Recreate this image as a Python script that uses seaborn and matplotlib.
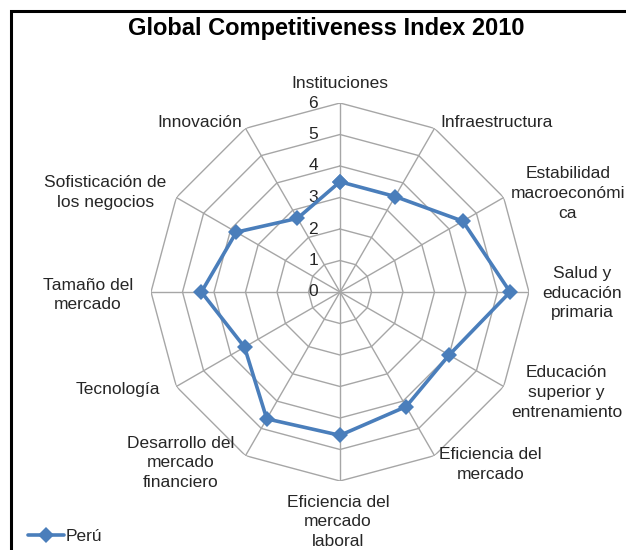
import numpy as np
import pandas as pd
import matplotlib
matplotlib.use("Agg")
import matplotlib.pyplot as plt
from matplotlib.patches import Rectangle
import seaborn as sns

# Pillars of the Global Competitiveness Index, clockwise from the top
categories = [
    "Instituciones", "Infraestructura", "Estabilidad\nmacroeconómi\nca",
    "Salud y\neducación\nprimaria", "Educación\nsuperior y\nentrenamiento",
    "Eficiencia del\nmercado", "Eficiencia del\nmercado\nlaboral",
    "Desarrollo del\nmercado\nfinanciero", "Tecnología", "Tamaño del\nmercado",
    "Sofisticación de\nlos negocios", "Innovación",
]
peru_scores = [3.5, 3.5, 4.5, 5.4, 4.0, 4.2, 4.55, 4.65, 3.5, 4.4, 3.8, 2.7]
radial_ticks = [0, 1, 2, 3, 4, 5, 6]
series_name = "Perú"
title = "Global Competitiveness Index 2010"

# label offsets (pixels) from the end of each spoke
label_offsets = [(0, 20), (62, 6), (64, 4), (53, -1), (63, -6), (56, -9),
                 (-2, -41), (-65, -7), (-58, -3), (-63, -3), (-71, 5), (-46, 6)]

sns.set_theme(style="white")
plt.rcParams["font.family"] = ["Liberation Sans", "DejaVu Sans"]

W, H, DPI = 626, 550, 100
fig = plt.figure(figsize=(W / DPI, H / DPI), dpi=DPI)
fig.patch.set_facecolor("white")

cx, cy, R = 340, 292, 189
ax = fig.add_axes([(cx - R) / W, (H - cy - R) / H, 2 * R / W, 2 * R / H],
                  projection="polar")
ax.set_theta_offset(np.pi / 2)
ax.set_theta_direction(-1)
ax.set_ylim(0, radial_ticks[-1])
ax.grid(False)
ax.spines["polar"].set_visible(False)
ax.set_xticks([])
ax.set_yticks([])
ax.set_facecolor("none")

n = len(categories)
angles = np.arange(n) * 2 * np.pi / n
closed = np.append(angles, angles[0])

grid_color = "#a6a6a6"
for r in radial_ticks[1:]:
    ax.plot(closed, [r] * (n + 1), color=grid_color, lw=1.0, zorder=1)
for a in angles:
    ax.plot([a, a], [0, radial_ticks[-1]], color=grid_color, lw=1.0, zorder=1)

text_color = "#262626"
for r in radial_ticks:
    ax.annotate(str(r), xy=(0, r), xytext=(-27, 0), textcoords="offset pixels",
                ha="center", va="center", fontsize=12.5, color=text_color,
                annotation_clip=False)

for a, lab, (dx, dy) in zip(angles, categories, label_offsets):
    ax.annotate(lab, xy=(a, radial_ticks[-1]), xytext=(dx, dy),
                textcoords="offset pixels", ha="center", va="center",
                multialignment="center", fontsize=12.5, color=text_color,
                linespacing=1.38, annotation_clip=False)

df = pd.DataFrame({
    "angle": closed,
    "score": peru_scores + peru_scores[:1],
    "pais": series_name,
})
sns.lineplot(data=df, x="angle", y="score", hue="pais", sort=False,
             estimator=None, palette=["#4a7ebb"], marker="D", markersize=8,
             markeredgewidth=0, linewidth=2.6, ax=ax, zorder=3)
ax.set_xlabel("")
ax.set_ylabel("")
handles, labels = ax.get_legend_handles_labels()
ax.get_legend().remove()
fig.legend(handles, labels, loc="center left",
           bbox_to_anchor=(12 / W, (H - 536) / H), frameon=False,
           fontsize=12.5, handlelength=2.1, handletextpad=0.1,
           labelcolor=text_color)

fig.text(326 / W, (H - 28) / H, title, ha="center", va="center",
         fontsize=17, fontweight="bold", color="black")

# chart area frame
fig.patches.append(Rectangle((11 / W, -0.05), 1.2, (H - 11) / H + 0.05,
                             transform=fig.transFigure, fill=False,
                             edgecolor="black", lw=2.2))

fig.savefig("out.png", dpi=DPI)
